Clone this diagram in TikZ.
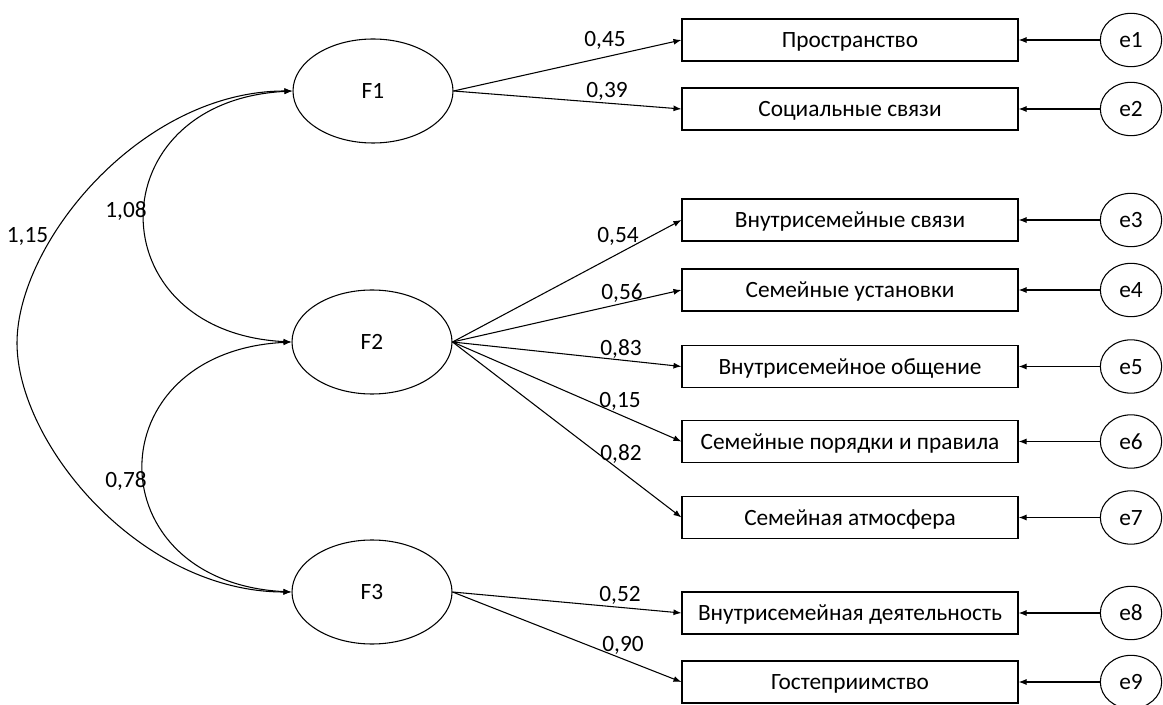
\documentclass[tikz,border=0pt]{standalone}
\usepackage{fontspec}
\setmainfont{Carlito}
\usetikzlibrary{arrows.meta,shapes.geometric}

\begin{document}
\begin{tikzpicture}[x=0.75pt,y=-0.75pt,line width=0.8pt,
  every node/.style={font=\fontsize{17.5}{20}\selectfont, text height=11.3pt, text depth=0pt},
  latent/.style={draw, ellipse, minimum width=120pt, minimum height=78pt, inner sep=0pt},
  indicator/.style={draw, rectangle, minimum width=252pt, minimum height=31.5pt, inner sep=0pt},
  resid/.style={draw, ellipse, minimum width=46pt, minimum height=40pt, inner sep=0pt},
  coef/.style={inner sep=0pt},
  load/.style={-{Latex[length=6pt,width=4.5pt]}},
  cov/.style={{Latex[length=6pt,width=4.5pt]}-{Latex[length=6pt,width=4.5pt]}}]
\useasboundingbox (0,0) rectangle (1163,705);
% Factors
\node[latent] (F1) at (373,91) {F1};
\node[latent] (F2) at (372,342) {F2};
\node[latent] (F3) at (372,592) {F3};
% Indicators
\node[indicator] (v1) at (850,40) {Пространство};
\node[indicator] (v2) at (850,109) {Социальные связи};
\node[indicator] (v3) at (850,220) {Внутрисемейные связи};
\node[indicator] (v4) at (850,290) {Семейные установки};
\node[indicator] (v5) at (850,366.5) {Внутрисемейное общение};
\node[indicator] (v6) at (850,441.5) {Семейные порядки и правила};
\node[indicator] (v7) at (850,517.5) {Семейная атмосфера};
\node[indicator] (v8) at (850,613) {Внутрисемейная деятельность};
\node[indicator] (v9) at (850,682) {Гостеприимство};
% Errors
\node[resid] (e1) at (1131,40) {e1};
\node[resid] (e2) at (1131,109) {e2};
\node[resid] (e3) at (1131,220) {e3};
\node[resid] (e4) at (1131,290) {e4};
\node[resid] (e5) at (1131,366.5) {e5};
\node[resid] (e6) at (1131,441.5) {e6};
\node[resid] (e7) at (1131,517.5) {e7};
\node[resid] (e8) at (1131,613) {e8};
\node[resid] (e9) at (1131,682) {e9};
% Loadings
\draw[load] (F1.east) -- (v1.west);
\draw[load] (F1.east) -- (v2.west);
\draw[load] (F2.east) -- (v3.west);
\draw[load] (F2.east) -- (v4.west);
\draw[load] (F2.east) -- (v5.west);
\draw[load] (F2.east) -- (v6.west);
\draw[load] (F2.east) -- (v7.west);
\draw[load] (F3.east) -- (v8.west);
\draw[load] (F3.east) -- (v9.west);
\node[coef] (c1) at (605,39) {0,45};
\node[coef] (c2) at (607,90) {0,39};
\node[coef] (c3) at (618,235) {0,54};
\node[coef] (c4) at (622,292) {0,56};
\node[coef] (c5) at (621,348) {0,83};
\node[coef] (c6) at (620,400) {0,15};
\node[coef] (c7) at (621,453) {0,82};
\node[coef] (c8) at (620,594) {0,52};
\node[coef] (c9) at (623,644) {0,90};
% Error arrows
\draw[load] (e1) -- (v1);
\draw[load] (e2) -- (v2);
\draw[load] (e3) -- (v3);
\draw[load] (e4) -- (v4);
\draw[load] (e5) -- (v5);
\draw[load] (e6) -- (v6);
\draw[load] (e7) -- (v7);
\draw[load] (e8) -- (v8);
\draw[load] (e9) -- (v9);
% Covariances
\coordinate (m13) at (17,343);
\draw[cov] (F1.west) .. controls +(-196,10) and +(-196,-10) .. (F2.west);
\draw[cov] (F2.west) .. controls +(-197,10) and +(-197,-10) .. (F3.west);
\draw[cov] (F1.west) .. controls +(-152,0) and +(0,-100) .. (m13)
  .. controls +(0,100) and +(-152,0) .. (F3.west);
\node[coef] (k1) at (126,210) {1,08};
\node[coef] (k2) at (27.5,235) {1,15};
\node[coef] (k3) at (126,480) {0,78};
\end{tikzpicture}
\end{document}
